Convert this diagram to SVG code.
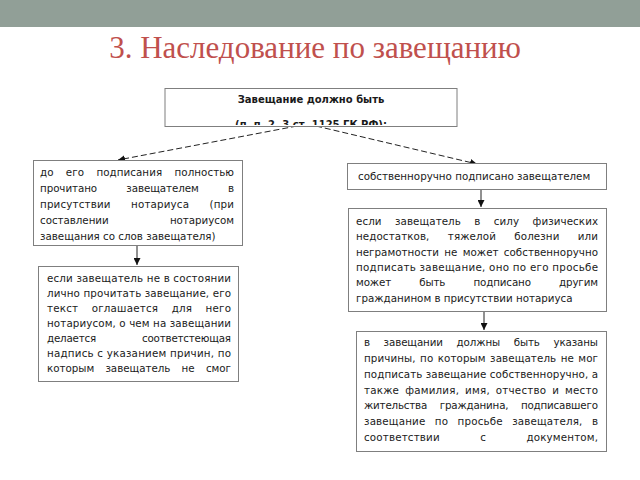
<svg xmlns="http://www.w3.org/2000/svg" width="640" height="480" viewBox="0 0 640 480">
<style>
.box{fill:#fff;stroke:#7f7f7f;stroke-width:1}
.t{font-family:"DejaVu Sans","Liberation Sans",sans-serif;font-size:10.3px;fill:#1a1a1a}
.h{font-family:"DejaVu Sans","Liberation Sans",sans-serif;font-size:10px;font-weight:bold;fill:#1a1a1a}
.dash{stroke:#222;stroke-width:1;stroke-dasharray:6 3;fill:none}
.solid{stroke:#222;stroke-width:1;fill:none}
</style>
<defs>
<marker id="ah" viewBox="0 0 10 10" refX="10" refY="5" markerWidth="7" markerHeight="7" orient="auto" markerUnits="userSpaceOnUse"><path d="M0,0 L10,5 L0,10 z" fill="#111"/></marker>
<clipPath id="hc"><rect x="165" y="89" width="292" height="36"/></clipPath>
</defs>
<rect x="0" y="0" width="640" height="27" fill="#919f97"/>
<text x="315" y="58" text-anchor="middle" font-family="Liberation Serif,serif" font-size="31" fill="#c0504d">3. Наследование по завещанию</text>

<g id="connectors">
<path class="dash" d="M297,126 L118,160" marker-end="url(#ah)"/>
<path class="dash" d="M316,126 L477,164" marker-end="url(#ah)"/>
<path class="solid" d="M137,245 L137,265" marker-end="url(#ah)"/>
<path class="solid" d="M481,189 L481,207" marker-end="url(#ah)"/>
<path class="solid" d="M484,311 L484,330" marker-end="url(#ah)"/>
</g>

<g id="header">
<rect class="box" x="165" y="88.5" width="292" height="38"/>
<text class="h" x="311" y="103" text-anchor="middle">Завещание должно быть</text>
<text class="h" x="311" y="128" text-anchor="middle" clip-path="url(#hc)">(п. п. 2, 3 ст. 1125 ГК РФ):</text>
</g>

<g id="left1">
<rect class="box" x="33.5" y="160.5" width="209" height="85"/>
<text class="t" x="40" y="176" word-spacing="9" textLength="194" lengthAdjust="spacing">до его подписания полностью</text>
<text class="t" x="40" y="192" word-spacing="26" textLength="194" lengthAdjust="spacing">прочитано завещателем в</text>
<text class="t" x="40" y="208" word-spacing="17" textLength="194" lengthAdjust="spacing">присутствии нотариуса (при</text>
<text class="t" x="40" y="224" word-spacing="58" textLength="194" lengthAdjust="spacing">составлении нотариусом</text>
<text class="t" x="40" y="240">завещания со слов завещателя)</text>
</g>

<g id="left2">
<rect class="box" x="38.5" y="266.5" width="200" height="115"/>
<text class="t" x="47" y="282" textLength="184" lengthAdjust="spacing">если завещатель не в состоянии</text>
<text class="t" x="47" y="297" textLength="184" lengthAdjust="spacing">лично прочитать завещание, его</text>
<text class="t" x="47" y="312" word-spacing="10" textLength="184" lengthAdjust="spacing">текст оглашается для него</text>
<text class="t" x="47" y="327" textLength="184" lengthAdjust="spacing">нотариусом, о чем на завещании</text>
<text class="t" x="47" y="342" word-spacing="43" textLength="184" lengthAdjust="spacing">делается соответстеющая</text>
<text class="t" x="47" y="357" textLength="184" lengthAdjust="spacing">надпись с указанием причин, по</text>
<text class="t" x="47" y="372" word-spacing="8" textLength="184" lengthAdjust="spacing">которым завещатель не смог</text>
</g>

<g id="right1">
<rect class="box" x="347.5" y="163.5" width="259" height="26"/>
<text class="t" x="358" y="180">собственноручно подписано завещателем</text>
</g>

<g id="right2">
<rect class="box" x="348.5" y="208.5" width="258" height="103"/>
<text class="t" x="356" y="225" word-spacing="10" textLength="242" lengthAdjust="spacing">если завещатель в силу физических</text>
<text class="t" x="356" y="240" word-spacing="15" textLength="242" lengthAdjust="spacing">недостатков, тяжелой болезни или</text>
<text class="t" x="356" y="256" word-spacing="2" textLength="242" lengthAdjust="spacing">неграмотности не может собственноручно</text>
<text class="t" x="356" y="271" textLength="242" lengthAdjust="spacing">подписать завещание, оно по его просьбе</text>
<text class="t" x="356" y="286" word-spacing="25" textLength="242" lengthAdjust="spacing">может быть подписано другим</text>
<text class="t" x="356" y="302">гражданином в присутствии нотариуса</text>
</g>

<g id="right3">
<rect class="box" x="356.5" y="331.5" width="250" height="120"/>
<text class="t" x="364" y="346" word-spacing="10.5" textLength="234" lengthAdjust="spacing">в завещании должны быть указаны</text>
<text class="t" x="364" y="362" word-spacing="1" textLength="234" lengthAdjust="spacing">причины, по которым завещатель не мог</text>
<text class="t" x="364" y="378" textLength="234" lengthAdjust="spacing">подписать завещание собственноручно, а</text>
<text class="t" x="364" y="394" word-spacing="2.5" textLength="234" lengthAdjust="spacing">также фамилия, имя, отчество и место</text>
<text class="t" x="364" y="409" word-spacing="9.5" textLength="234" lengthAdjust="spacing">жительства гражданина, подписавшего</text>
<text class="t" x="364" y="425" word-spacing="6" textLength="234" lengthAdjust="spacing">завещание по просьбе завещателя, в</text>
<text class="t" x="364" y="441" word-spacing="37" textLength="234" lengthAdjust="spacing">соответствии с документом,</text>
</g>
</svg>
